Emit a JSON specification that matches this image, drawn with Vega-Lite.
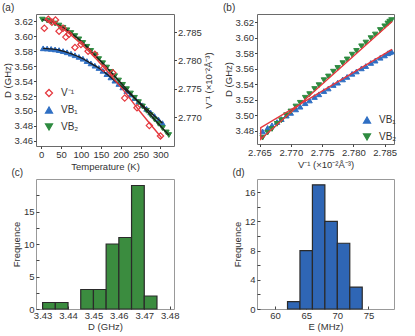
{
  "$schema": "https://vega.github.io/schema/vega-lite/v6.json",
  "padding": {"left": 1, "top": 2, "right": 2, "bottom": 2},
  "background": "white",
  "config": {
    "font": "Liberation Sans",
    "view": {"stroke": "#6a6a6a", "strokeWidth": 1},
    "axis": {"grid": false, "domain": false, "tickSize": 2.5, "tickColor": "#444", "labelPadding": 1, "labelFontSize": 9.5, "titleFontSize": 9.5, "titleFontWeight": "normal", "labelColor": "#333", "titleColor": "#333", "titlePadding": 2},
    "title": {"fontSize": 10, "fontWeight": "normal", "anchor": "start", "frame": "bounds", "offset": 1, "color": "#333"},
    "legend": {"labelFontSize": 10, "labelColor": "#333", "symbolStrokeWidth": 1.2}
  },
  "datasets": {
    "vb": [
      {"T": 5, "D": 3.5840, "s": "VB₁"}, {"T": 15, "D": 3.5837, "s": "VB₁"}, {"T": 25, "D": 3.5832, "s": "VB₁"}, {"T": 35, "D": 3.5825, "s": "VB₁"}, {"T": 45, "D": 3.5816, "s": "VB₁"}, {"T": 55, "D": 3.5803, "s": "VB₁"}, {"T": 65, "D": 3.5787, "s": "VB₁"}, {"T": 75, "D": 3.5768, "s": "VB₁"}, {"T": 85, "D": 3.5747, "s": "VB₁"}, {"T": 95, "D": 3.5725, "s": "VB₁"}, {"T": 105, "D": 3.5700, "s": "VB₁"}, {"T": 115, "D": 3.5669, "s": "VB₁"}, {"T": 125, "D": 3.5638, "s": "VB₁"}, {"T": 135, "D": 3.5607, "s": "VB₁"}, {"T": 145, "D": 3.5576, "s": "VB₁"}, {"T": 155, "D": 3.5538, "s": "VB₁"}, {"T": 165, "D": 3.5494, "s": "VB₁"}, {"T": 175, "D": 3.5450, "s": "VB₁"}, {"T": 185, "D": 3.5406, "s": "VB₁"}, {"T": 195, "D": 3.5362, "s": "VB₁"}, {"T": 205, "D": 3.5316, "s": "VB₁"}, {"T": 215, "D": 3.5268, "s": "VB₁"}, {"T": 225, "D": 3.5220, "s": "VB₁"}, {"T": 235, "D": 3.5172, "s": "VB₁"}, {"T": 245, "D": 3.5124, "s": "VB₁"}, {"T": 255, "D": 3.5076, "s": "VB₁"}, {"T": 265, "D": 3.5028, "s": "VB₁"}, {"T": 275, "D": 3.4980, "s": "VB₁"}, {"T": 285, "D": 3.4932, "s": "VB₁"}, {"T": 295, "D": 3.4884, "s": "VB₁"}, {"T": 305, "D": 3.4836, "s": "VB₁"},
      {"T": 3, "D": 3.6225, "s": "VB₂"}, {"T": 15, "D": 3.6212, "s": "VB₂"}, {"T": 25, "D": 3.6195, "s": "VB₂"}, {"T": 35, "D": 3.6172, "s": "VB₂"}, {"T": 45, "D": 3.6145, "s": "VB₂"}, {"T": 55, "D": 3.6115, "s": "VB₂"}, {"T": 65, "D": 3.6082, "s": "VB₂"}, {"T": 75, "D": 3.6045, "s": "VB₂"}, {"T": 85, "D": 3.6004, "s": "VB₂"}, {"T": 95, "D": 3.5960, "s": "VB₂"}, {"T": 105, "D": 3.5912, "s": "VB₂"}, {"T": 115, "D": 3.5860, "s": "VB₂"}, {"T": 125, "D": 3.5805, "s": "VB₂"}, {"T": 135, "D": 3.5750, "s": "VB₂"}, {"T": 145, "D": 3.5695, "s": "VB₂"}, {"T": 155, "D": 3.5640, "s": "VB₂"}, {"T": 165, "D": 3.5582, "s": "VB₂"}, {"T": 175, "D": 3.5524, "s": "VB₂"}, {"T": 185, "D": 3.5466, "s": "VB₂"}, {"T": 195, "D": 3.5408, "s": "VB₂"}, {"T": 205, "D": 3.5350, "s": "VB₂"}, {"T": 215, "D": 3.5292, "s": "VB₂"}, {"T": 225, "D": 3.5234, "s": "VB₂"}, {"T": 235, "D": 3.5176, "s": "VB₂"}, {"T": 245, "D": 3.5118, "s": "VB₂"}, {"T": 255, "D": 3.5060, "s": "VB₂"}, {"T": 265, "D": 3.5002, "s": "VB₂"}, {"T": 275, "D": 3.4944, "s": "VB₂"}, {"T": 285, "D": 3.4886, "s": "VB₂"}, {"T": 295, "D": 3.4828, "s": "VB₂"}, {"T": 305, "D": 3.4770, "s": "VB₂"}, {"T": 315, "D": 3.4712, "s": "VB₂"}, {"T": 321, "D": 3.4677, "s": "VB₂"}
    ],
    "vinv": [
      {"T": 8, "V": 2.78570, "s": "V⁻¹"}, {"T": 18, "V": 2.78727, "s": "V⁻¹"}, {"T": 27, "V": 2.78675, "s": "V⁻¹"}, {"T": 36, "V": 2.78714, "s": "V⁻¹"}, {"T": 45, "V": 2.78517, "s": "V⁻¹"}, {"T": 55, "V": 2.78570, "s": "V⁻¹"}, {"T": 62, "V": 2.78412, "s": "V⁻¹"}, {"T": 70, "V": 2.78464, "s": "V⁻¹"}, {"T": 85, "V": 2.78228, "s": "V⁻¹"}, {"T": 100, "V": 2.78281, "s": "V⁻¹"}, {"T": 118, "V": 2.78163, "s": "V⁻¹"}, {"T": 135, "V": 2.78110, "s": "V⁻¹"}, {"T": 157, "V": 2.77861, "s": "V⁻¹"}, {"T": 180, "V": 2.77782, "s": "V⁻¹"}, {"T": 210, "V": 2.77336, "s": "V⁻¹"}, {"T": 241, "V": 2.77165, "s": "V⁻¹"}, {"T": 272, "V": 2.76850, "s": "V⁻¹"}, {"T": 300, "V": 2.76666, "s": "V⁻¹"}
    ],
    "vfit": [
      {"T": 10, "V": 2.78740}, {"T": 50, "V": 2.78583}, {"T": 100, "V": 2.78294}, {"T": 150, "V": 2.77939}, {"T": 200, "V": 2.77533}, {"T": 250, "V": 2.77086}, {"T": 304, "V": 2.76627}
    ],
    "bpts": [
      {"V": 2.7655, "D": 3.4790, "s": "VB₁"}, {"V": 2.7663, "D": 3.4835, "s": "VB₁"}, {"V": 2.7670, "D": 3.4870, "s": "VB₁"}, {"V": 2.7678, "D": 3.4912, "s": "VB₁"}, {"V": 2.7685, "D": 3.4950, "s": "VB₁"}, {"V": 2.7693, "D": 3.4995, "s": "VB₁"}, {"V": 2.7700, "D": 3.5030, "s": "VB₁"}, {"V": 2.7708, "D": 3.5075, "s": "VB₁"}, {"V": 2.7715, "D": 3.5110, "s": "VB₁"}, {"V": 2.7723, "D": 3.5155, "s": "VB₁"}, {"V": 2.7730, "D": 3.5190, "s": "VB₁"}, {"V": 2.7738, "D": 3.5235, "s": "VB₁"}, {"V": 2.7745, "D": 3.5270, "s": "VB₁"}, {"V": 2.7753, "D": 3.5312, "s": "VB₁"}, {"V": 2.7760, "D": 3.5345, "s": "VB₁"}, {"V": 2.7768, "D": 3.5390, "s": "VB₁"}, {"V": 2.7775, "D": 3.5420, "s": "VB₁"}, {"V": 2.7783, "D": 3.5462, "s": "VB₁"}, {"V": 2.7790, "D": 3.5495, "s": "VB₁"}, {"V": 2.7798, "D": 3.5535, "s": "VB₁"}, {"V": 2.7805, "D": 3.5565, "s": "VB₁"}, {"V": 2.7813, "D": 3.5605, "s": "VB₁"}, {"V": 2.7820, "D": 3.5635, "s": "VB₁"}, {"V": 2.7828, "D": 3.5675, "s": "VB₁"}, {"V": 2.7835, "D": 3.5705, "s": "VB₁"}, {"V": 2.7843, "D": 3.5742, "s": "VB₁"}, {"V": 2.7850, "D": 3.5772, "s": "VB₁"}, {"V": 2.7855, "D": 3.5800, "s": "VB₁"}, {"V": 2.7858, "D": 3.5812, "s": "VB₁"}, {"V": 2.7861, "D": 3.5822, "s": "VB₁"},
      {"V": 2.7655, "D": 3.4710, "s": "VB₂"}, {"V": 2.7663, "D": 3.4775, "s": "VB₂"}, {"V": 2.7670, "D": 3.4822, "s": "VB₂"}, {"V": 2.7678, "D": 3.4888, "s": "VB₂"}, {"V": 2.7685, "D": 3.4935, "s": "VB₂"}, {"V": 2.7693, "D": 3.5000, "s": "VB₂"}, {"V": 2.7700, "D": 3.5048, "s": "VB₂"}, {"V": 2.7708, "D": 3.5112, "s": "VB₂"}, {"V": 2.7715, "D": 3.5160, "s": "VB₂"}, {"V": 2.7723, "D": 3.5225, "s": "VB₂"}, {"V": 2.7730, "D": 3.5272, "s": "VB₂"}, {"V": 2.7738, "D": 3.5338, "s": "VB₂"}, {"V": 2.7745, "D": 3.5388, "s": "VB₂"}, {"V": 2.7753, "D": 3.5452, "s": "VB₂"}, {"V": 2.7760, "D": 3.5500, "s": "VB₂"}, {"V": 2.7768, "D": 3.5562, "s": "VB₂"}, {"V": 2.7775, "D": 3.5610, "s": "VB₂"}, {"V": 2.7783, "D": 3.5672, "s": "VB₂"}, {"V": 2.7790, "D": 3.5720, "s": "VB₂"}, {"V": 2.7798, "D": 3.5782, "s": "VB₂"}, {"V": 2.7805, "D": 3.5830, "s": "VB₂"}, {"V": 2.7813, "D": 3.5890, "s": "VB₂"}, {"V": 2.7820, "D": 3.5938, "s": "VB₂"}, {"V": 2.7828, "D": 3.5995, "s": "VB₂"}, {"V": 2.7835, "D": 3.6042, "s": "VB₂"}, {"V": 2.7843, "D": 3.6100, "s": "VB₂"}, {"V": 2.7850, "D": 3.6148, "s": "VB₂"}, {"V": 2.7855, "D": 3.6185, "s": "VB₂"}, {"V": 2.7858, "D": 3.6208, "s": "VB₂"}, {"V": 2.7861, "D": 3.6228, "s": "VB₂"}
    ],
    "bfit": [
      {"o": 1, "V": 2.7862, "D": 3.5850}, {"o": 2, "V": 2.7652, "D": 3.4840}, {"o": 3, "V": 2.7652, "D": 3.4690}, {"o": 4, "V": 2.7862, "D": 3.6210}
    ],
    "hc": [
      {"lo": 3.430, "hi": 3.435, "n": 1}, {"lo": 3.435, "hi": 3.440, "n": 1}, {"lo": 3.445, "hi": 3.450, "n": 3}, {"lo": 3.450, "hi": 3.455, "n": 3}, {"lo": 3.455, "hi": 3.460, "n": 10}, {"lo": 3.460, "hi": 3.465, "n": 11}, {"lo": 3.465, "hi": 3.470, "n": 19}, {"lo": 3.470, "hi": 3.475, "n": 2}
    ],
    "hd": [
      {"lo": 62, "hi": 64, "n": 1}, {"lo": 64, "hi": 66, "n": 8}, {"lo": 66, "hi": 68, "n": 17}, {"lo": 68, "hi": 70, "n": 12}, {"lo": 70, "hi": 72, "n": 9}, {"lo": 72, "hi": 74, "n": 3}
    ]
  },
  "columns": 2,
  "spacing": {"row": -4, "column": 8},
  "resolve": {
    "scale": {"fill": "independent", "stroke": "independent", "shape": "independent", "x": "independent", "y": "independent"},
    "legend": {"fill": "independent", "stroke": "independent", "shape": "independent"}
  },
  "concat": [
    {
      "title": "(a)",
      "width": 138,
      "height": 132,
      "encoding": {
        "x": {"field": "T", "type": "quantitative", "scale": {"domain": [-13, 334], "nice": false}, "axis": {"values": [0, 50, 100, 150, 200, 250, 300], "title": "Temperature (K)"}}
      },
      "layer": [
        {
          "encoding": {
            "y": {"field": "D", "type": "quantitative", "scale": {"domain": [3.453, 3.630], "nice": false, "zero": false}, "axis": {"orient": "left", "values": [3.46, 3.48, 3.50, 3.52, 3.54, 3.56, 3.58, 3.60, 3.62], "format": ".2f", "title": "D (GHz)"}}
          },
          "layer": [
            {
              "data": {"name": "vb"},
              "mark": {"type": "point", "filled": true, "size": 30, "opacity": 1, "strokeWidth": 1},
              "encoding": {
                "fill": {"field": "s", "type": "nominal", "scale": {"domain": ["V⁻¹", "VB₁", "VB₂"], "range": ["transparent", "#2f6fc3", "#2e8b40"]}, "legend": {"orient": "none", "legendX": 8, "legendY": 74, "title": null, "symbolSize": 50, "rowPadding": 5, "labelOffset": 7, "padding": 0}},
                "stroke": {"field": "s", "type": "nominal", "scale": {"domain": ["V⁻¹", "VB₁", "VB₂"], "range": ["#e5383e", "#2f6fc3", "#2e8b40"]}, "legend": {"orient": "none", "legendX": 8, "legendY": 74, "title": null, "symbolSize": 50, "rowPadding": 5, "labelOffset": 7, "padding": 0}},
                "shape": {"field": "s", "type": "nominal", "scale": {"domain": ["V⁻¹", "VB₁", "VB₂"], "range": ["diamond", "triangle-up", "triangle-down"]}, "legend": {"orient": "none", "legendX": 8, "legendY": 74, "title": null, "symbolSize": 50, "rowPadding": 5, "labelOffset": 7, "padding": 0}}
              }
            },
            {
              "data": {"name": "vb"},
              "mark": {"type": "line", "color": "#1a1a1a", "strokeWidth": 1.3, "interpolate": "monotone"},
              "encoding": {"detail": {"field": "s", "type": "nominal"}}
            }
          ]
        },
        {
          "encoding": {
            "y": {"field": "V", "type": "quantitative", "scale": {"domain": [2.7649, 2.7882], "nice": false, "zero": false}, "axis": {"orient": "right", "values": [2.770, 2.775, 2.780, 2.785], "format": ".3f", "title": "V⁻¹ (×10⁻²Å⁻³)", "titleAngle": 270, "titleBaseline": "top", "labelPadding": 1}}
          },
          "layer": [
            {
              "data": {"name": "vinv"},
              "mark": {"type": "point", "filled": true, "size": 40, "opacity": 1, "strokeWidth": 1.2},
              "encoding": {
                "fill": {"field": "s", "type": "nominal", "scale": {"domain": ["V⁻¹", "VB₁", "VB₂"], "range": ["transparent", "#2f6fc3", "#2e8b40"]}, "legend": {"orient": "none", "legendX": 8, "legendY": 74, "title": null, "symbolSize": 50, "rowPadding": 5, "labelOffset": 7, "padding": 0}},
                "stroke": {"field": "s", "type": "nominal", "scale": {"domain": ["V⁻¹", "VB₁", "VB₂"], "range": ["#e5383e", "#2f6fc3", "#2e8b40"]}, "legend": {"orient": "none", "legendX": 8, "legendY": 74, "title": null, "symbolSize": 50, "rowPadding": 5, "labelOffset": 7, "padding": 0}},
                "shape": {"field": "s", "type": "nominal", "scale": {"domain": ["V⁻¹", "VB₁", "VB₂"], "range": ["diamond", "triangle-up", "triangle-down"]}, "legend": {"orient": "none", "legendX": 8, "legendY": 74, "title": null, "symbolSize": 50, "rowPadding": 5, "labelOffset": 7, "padding": 0}}
              }
            },
            {
              "data": {"name": "vfit"},
              "mark": {"type": "line", "color": "#e5383e", "strokeWidth": 1.4, "interpolate": "monotone"},
              "encoding": {}
            }
          ]
        }
      ],
      "resolve": {"scale": {"y": "independent"}}
    },
    {
      "title": "(b)",
      "width": 137,
      "height": 130,
      "encoding": {
        "x": {"field": "V", "type": "quantitative", "scale": {"domain": [2.7646, 2.7865], "nice": false, "zero": false}, "axis": {"values": [2.765, 2.770, 2.775, 2.780, 2.785], "format": ".3f", "title": "V⁻¹ (×10⁻²Å⁻³)"}},
        "y": {"field": "D", "type": "quantitative", "scale": {"domain": [3.4628, 3.6307], "nice": false, "zero": false}, "axis": {"values": [3.48, 3.50, 3.52, 3.54, 3.56, 3.58, 3.60, 3.62], "format": ".2f", "title": "D (GHz)"}}
      },
      "layer": [
        {
          "data": {"name": "bpts"},
          "mark": {"type": "point", "filled": true, "size": 30, "opacity": 1, "strokeWidth": 1},
          "encoding": {
            "fill": {"field": "s", "type": "nominal", "scale": {"domain": ["VB₁", "VB₂"], "range": ["#2f6fc3", "#2e8b40"]}, "legend": {"orient": "none", "legendX": 105, "legendY": 101, "title": null, "symbolSize": 50, "rowPadding": 5, "labelOffset": 7, "padding": 0}},
            "stroke": {"field": "s", "type": "nominal", "scale": {"domain": ["VB₁", "VB₂"], "range": ["#2f6fc3", "#2e8b40"]}, "legend": {"orient": "none", "legendX": 105, "legendY": 101, "title": null, "symbolSize": 50, "rowPadding": 5, "labelOffset": 7, "padding": 0}},
            "shape": {"field": "s", "type": "nominal", "scale": {"domain": ["VB₁", "VB₂"], "range": ["triangle-up", "triangle-down"]}, "legend": {"orient": "none", "legendX": 105, "legendY": 101, "title": null, "symbolSize": 50, "rowPadding": 5, "labelOffset": 7, "padding": 0}}
          }
        },
        {
          "data": {"name": "bfit"},
          "mark": {"type": "line", "color": "#e5383e", "strokeWidth": 1.4},
          "encoding": {"order": {"field": "o", "type": "quantitative"}}
        }
      ]
    },
    {
      "title": "(c)",
      "width": 138,
      "height": 130,
      "view": {"stroke": "#999"},
      "data": {"name": "hc"},
      "mark": {"type": "bar", "fill": "#3b8c3f", "stroke": "#2a2a2a", "strokeWidth": 1.2},
      "encoding": {
        "x": {"field": "lo", "type": "quantitative", "scale": {"domain": [3.4274, 3.4817], "nice": false, "zero": false}, "axis": {"values": [3.43, 3.44, 3.45, 3.46, 3.47, 3.48], "format": ".2f", "title": "D (GHz)", "tickSize": -3, "labelPadding": 4}},
        "x2": {"field": "hi"},
        "y": {"field": "n", "type": "quantitative", "scale": {"domain": [0, 20], "nice": false}, "axis": {"values": [0, 2.5, 5, 7.5, 10, 12.5, 15, 17.5], "labelExpr": "datum.value % 5 === 0 ? datum.label : ''", "title": "Frequence", "tickSize": -3, "labelPadding": 5}},
        "y2": {"datum": 0}
      }
    },
    {
      "title": "(d)",
      "width": 137,
      "height": 130,
      "view": {"stroke": "#999"},
      "data": {"name": "hd"},
      "mark": {"type": "bar", "fill": "#2f66b5", "stroke": "#2a2a2a", "strokeWidth": 1.2},
      "encoding": {
        "x": {"field": "lo", "type": "quantitative", "scale": {"domain": [57.1, 79.1], "nice": false, "zero": false}, "axis": {"values": [60, 65, 70, 75], "title": "E (MHz)", "tickSize": -3, "labelPadding": 4}},
        "x2": {"field": "hi"},
        "y": {"field": "n", "type": "quantitative", "scale": {"domain": [0, 17.8], "nice": false}, "axis": {"values": [0, 2, 4, 6, 8, 10, 12, 14, 16], "labelExpr": "datum.value % 4 === 0 ? datum.label : ''", "title": "Frequence", "tickSize": -3, "labelPadding": 5}},
        "y2": {"datum": 0}
      }
    }
  ]
}
